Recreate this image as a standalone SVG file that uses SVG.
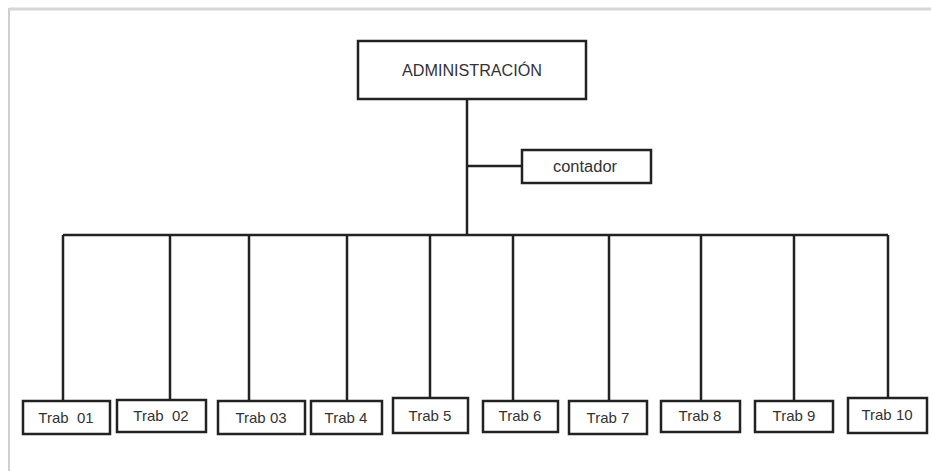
<svg xmlns="http://www.w3.org/2000/svg" width="931" height="471" viewBox="0 0 931 471">
<style>
.box{fill:#fff;stroke:#222;stroke-width:2.5}
.ln{fill:none;stroke:#222;stroke-width:2.5}
.t{font-family:"Liberation Sans",Arial,sans-serif;font-size:15px;fill:#333;text-anchor:middle;white-space:pre}
.big{font-size:16px}
.frame{fill:none;stroke:#cfcfcf}
</style>
<rect width="931" height="471" fill="#fff"/>
<path class="frame" d="M9,471 V9 H931" stroke-width="2"/>
<path d="M9,9 H931" stroke="#d6d6d6" stroke-width="3" fill="none"/>
<g id="connectors">
<path class="ln" d="M467,99 V235"/>
<path class="ln" d="M467,166 H522"/>
<path class="ln" d="M63,235 H888"/>
<path class="ln" d="M63,235 V401 M170,235 V400 M249,235 V401 M347,235 V401 M430,235 V398 M513,235 V401 M609,235 V401 M701,235 V401 M794,235 V401 M888,235 V398"/>
</g>
<g id="admin"><rect class="box" x="358" y="41" width="228" height="58"/><text class="t big" x="472" y="76" textLength="140" lengthAdjust="spacingAndGlyphs">ADMINISTRACIÓN</text></g>
<g id="contador"><rect class="box" x="522" y="150" width="129" height="33"/><text class="t big" x="585" y="172" textLength="64" lengthAdjust="spacingAndGlyphs">contador</text></g>
<g id="trab01"><rect class="box" x="23" y="401" width="87" height="33"/><text class="t" x="66" y="423">Trab  01</text></g>
<g id="trab02"><rect class="box" x="117" y="400" width="89" height="32"/><text class="t" x="161" y="421">Trab  02</text></g>
<g id="trab03"><rect class="box" x="218" y="401" width="87" height="33"/><text class="t" x="261" y="423">Trab 03</text></g>
<g id="trab4"><rect class="box" x="311" y="401" width="71" height="33"/><text class="t" x="346" y="423">Trab 4</text></g>
<g id="trab5"><rect class="box" x="393" y="398" width="75" height="35"/><text class="t" x="430" y="421">Trab 5</text></g>
<g id="trab6"><rect class="box" x="483" y="401" width="75" height="31"/><text class="t" x="520" y="421">Trab 6</text></g>
<g id="trab7"><rect class="box" x="569" y="401" width="78" height="33"/><text class="t" x="608" y="423">Trab 7</text></g>
<g id="trab8"><rect class="box" x="661" y="401" width="79" height="31"/><text class="t" x="700" y="421">Trab 8</text></g>
<g id="trab9"><rect class="box" x="755" y="401" width="78" height="31"/><text class="t" x="794" y="421">Trab 9</text></g>
<g id="trab10"><rect class="box" x="848" y="398" width="79" height="35"/><text class="t" x="887" y="420">Trab 10</text></g>
</svg>
